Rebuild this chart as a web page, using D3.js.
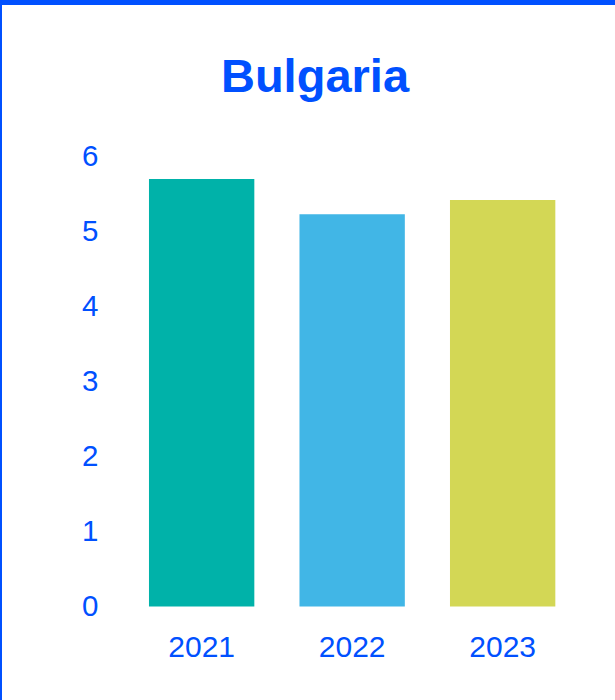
<!DOCTYPE html>
<html>
<head>
<meta charset="utf-8">
<script src="https://cdn.jsdelivr.net/npm/d3@7/dist/d3.min.js"></script>
<style>
  html, body { margin: 0; padding: 0; background: #fff; }
  svg { display: block; }
</style>
</head>
<body>
<div id="chart"></div>
<script>
const title = "Bulgaria";
const categories = ["2021", "2022", "2023"];
const values = [5.70, 5.23, 5.42];
const colors = ["#00B2A9", "#41B6E6", "#D3D755"];
const yTicks = [0, 1, 2, 3, 4, 5, 6];

const W = 615, H = 700;
const textColor = "#0050FF";
const font = "'Liberation Sans', Arial, Helvetica, sans-serif";

const svg = d3.select("#chart").append("svg")
  .attr("width", W).attr("height", H);

svg.append("rect").attr("x", 0).attr("y", 0).attr("width", W).attr("height", H).attr("fill", "#fff");
// frame
svg.append("rect").attr("x", 0).attr("y", 0).attr("width", W).attr("height", 5).attr("fill", textColor);
svg.append("rect").attr("x", 0).attr("y", 0).attr("width", 2).attr("height", H).attr("fill", textColor);

svg.append("text")
  .attr("x", 315).attr("y", 92)
  .attr("text-anchor", "middle")
  .attr("font-family", font)
  .attr("font-weight", "bold")
  .attr("font-size", 47)
  .attr("fill", textColor)
  .text(title);

const x = d3.scaleBand()
  .domain(categories)
  .range([126.4, 577.9])
  .paddingInner(0.3)
  .paddingOuter(0.15);

const y = d3.scaleLinear()
  .domain([0, 6])
  .range([606.5, 156.5]);

svg.append("g").selectAll("rect")
  .data(values)
  .join("rect")
  .attr("x", (d, i) => x(categories[i]))
  .attr("y", d => y(d))
  .attr("width", x.bandwidth())
  .attr("height", d => y(0) - y(d))
  .attr("fill", (d, i) => colors[i]);

const yAxis = svg.append("g")
  .attr("transform", "translate(98.5,0)")
  .call(d3.axisLeft(y).tickValues(yTicks).tickSize(0).tickPadding(0).tickFormat(d3.format("d")));
yAxis.select(".domain").remove();
yAxis.selectAll("text")
  .attr("font-family", font)
  .attr("font-size", 29.5)
  .attr("fill", textColor);

const xAxis = svg.append("g")
  .attr("transform", "translate(0,606.5)")
  .call(d3.axisBottom(x).tickSize(0).tickPadding(0));
xAxis.select(".domain").remove();
xAxis.selectAll("text")
  .attr("dy", null)
  .attr("y", 50.5)
  .attr("font-family", font)
  .attr("font-size", 30)
  .attr("fill", textColor);
</script>
</body>
</html>
